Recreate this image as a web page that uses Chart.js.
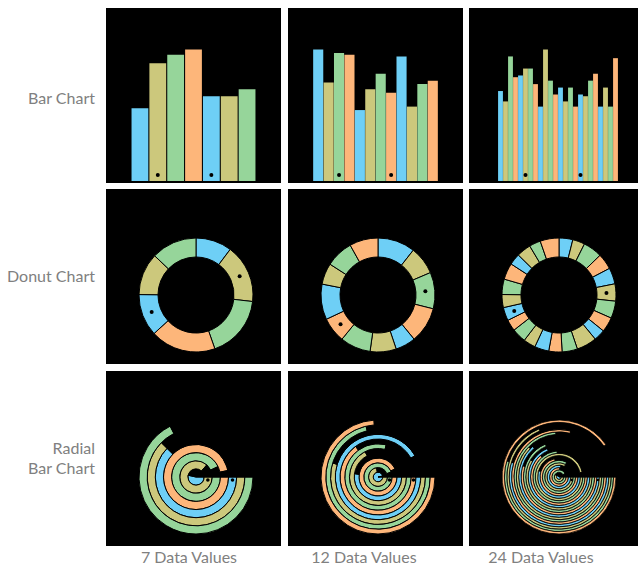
<!DOCTYPE html>
<html>
<head>
<meta charset="utf-8">
<script src="https://cdn.jsdelivr.net/npm/chart.js@4.4.1/dist/chart.umd.min.js"></script>
<style>
  html, body { margin: 0; padding: 0; background: #fff; overflow: hidden; }
  body { width: 638px; height: 567px; position: relative; font-family: Lato, 'Open Sans', sans-serif; color: #808080; }
  .panel { position: absolute; width: 175px; height: 175px; background: #000; }
  .panel canvas { display: block; }
  .rowLabel { position: absolute; left: 0; width: 95px; text-align: right; font-size: 16px; line-height: 20px; }
  .colLabel { position: absolute; width: 160px; text-align: center; font-size: 16px; line-height: 20px; }
</style>
</head>
<body>
<script>
// colours cycle through the values
var colors = ['#6ecff6', '#ccc87c', '#96d59a', '#fdb67a'];

var values7 = [42, 68, 73, 76, 49, 49, 53];
var values12 = [76, 57, 74, 73, 41, 53, 62, 51, 72, 43, 56, 58];
var values24 = [52, 46, 72, 60, 61, 65, 65, 56, 43, 76, 58, 50, 54, 46, 54, 43, 50, 49, 58, 62, 43, 54, 43, 71];

// which values carry a small black dot
var marked7 = [1, 4];
var marked12 = [2, 7];
var marked24 = [5, 16];

var columnLabels = ['7 Data Values', '12 Data Values', '24 Data Values'];
var rowLabels = [['Bar Chart'], ['Donut Chart'], ['Radial', 'Bar Chart']];

var barMax = 100;
var radialMax = 78.5;

var columns = [
    { values: values7, marked: marked7, x: 106, labelX: 189, barPad: { left: 25, right: 25 } },
    { values: values12, marked: marked12, x: 288, labelX: 364, barPad: { left: 25, right: 25 } },
    { values: values24, marked: marked24, x: 469, labelX: 541, barPad: { left: 29, right: 26 } }
];
var rowTops = [8, 189, 371];
var rowCenters = [98, 276, 458];

// draws the black marker dots from the elements' own geometry
var markerPlugin = {
    id: 'markers',
    afterDatasetsDraw: function(chart, args, opts) {
        var ctx = chart.ctx;
        ctx.save();
        ctx.fillStyle = '#000';
        opts.indices.forEach(function(i) {
            var x, y;
            if (opts.kind === 'bar') {
                var bar = chart.getDatasetMeta(0).data[i];
                x = bar.x;
                y = bar.base - 6;
            } else if (opts.kind === 'donut') {
                var p = chart.getDatasetMeta(0).data[i].tooltipPosition();
                x = p.x;
                y = p.y;
            } else {
                var n = chart.data.datasets.length;
                var arc = chart.getDatasetMeta(n - 1 - i).data[0];
                var r = (arc.innerRadius + arc.outerRadius) / 2;
                var a = arc.startAngle + 3 / r;
                x = arc.x + r * Math.cos(a);
                y = arc.y + r * Math.sin(a);
            }
            ctx.beginPath();
            ctx.arc(x, y, opts.radius, 0, Math.PI * 2);
            ctx.fill();
        });
        ctx.restore();
    }
};

function makeCanvas(x, y) {
    var div = document.createElement('div');
    div.className = 'panel';
    div.style.left = x + 'px';
    div.style.top = y + 'px';
    var canvas = document.createElement('canvas');
    canvas.width = 175;
    canvas.height = 175;
    div.appendChild(canvas);
    document.body.appendChild(div);
    return canvas.getContext('2d');
}

var baseOptions = function(padding, markers) {
    return {
        responsive: false,
        animation: false,
        events: [],
        layout: { padding: padding },
        plugins: { legend: { display: false }, tooltip: { enabled: false }, markers: markers }
    };
};

var donutPadding = { left: 33, right: 28, top: 49, bottom: 12 };

columns.forEach(function(col, c) {
    var values = col.values;
    var cols = values.map(function(v, i) { return colors[i % colors.length]; });

    // bar chart
    var barOpts = baseOptions({ left: col.barPad.left, right: col.barPad.right, top: 0, bottom: 2 },
        { kind: 'bar', indices: col.marked, radius: 2 });
    barOpts.scales = {
        x: { display: false },
        y: { display: false, min: 0, max: barMax }
    };
    new Chart(makeCanvas(col.x, rowTops[0]), {
        type: 'bar',
        data: {
            labels: values.map(function(v, i) { return i + 1; }),
            datasets: [{
                data: values,
                backgroundColor: cols,
                borderWidth: 0,
                barPercentage: values.length < 10 ? 0.94 : 0.97,
                categoryPercentage: 1
            }]
        },
        options: barOpts,
        plugins: [markerPlugin]
    });

    // donut chart
    var donutOpts = baseOptions(donutPadding, { kind: 'donut', indices: col.marked, radius: 2 });
    donutOpts.cutout = '66.7%';
    donutOpts.radius = 57;
    new Chart(makeCanvas(col.x, rowTops[1]), {
        type: 'doughnut',
        data: {
            labels: values.map(function(v, i) { return i + 1; }),
            datasets: [{
                data: values,
                backgroundColor: cols,
                borderColor: '#000',
                borderWidth: 1
            }]
        },
        options: donutOpts,
        plugins: [markerPlugin]
    });

    // radial bar chart: one ring per value, first value innermost
    var rings = [];
    for (var i = values.length - 1; i >= 0; i--) {
        rings.push({
            data: [values[i], radialMax - values[i]],
            backgroundColor: [cols[i], 'rgba(0,0,0,0)'],
            borderColor: '#000',
            borderWidth: values.length > 20 ? 0.8 : 1
        });
    }
    var radialOpts = baseOptions(donutPadding,
        { kind: 'radial', indices: col.marked, radius: values.length > 20 ? 1.3 : 1.8 });
    radialOpts.cutout = 0;
    radialOpts.radius = 57;
    radialOpts.rotation = 90;
    new Chart(makeCanvas(col.x, rowTops[2]), {
        type: 'doughnut',
        data: { labels: ['value', 'rest'], datasets: rings },
        options: radialOpts,
        plugins: [markerPlugin]
    });

    var lab = document.createElement('div');
    lab.className = 'colLabel';
    lab.style.left = (col.labelX - 80) + 'px';
    lab.style.top = '547px';
    lab.textContent = columnLabels[c];
    document.body.appendChild(lab);
});

rowLabels.forEach(function(lines, r) {
    var div = document.createElement('div');
    div.className = 'rowLabel';
    div.style.top = (rowCenters[r] - lines.length * 10) + 'px';
    div.innerHTML = lines.join('<br>');
    document.body.appendChild(div);
});
</script>
</body>
</html>
